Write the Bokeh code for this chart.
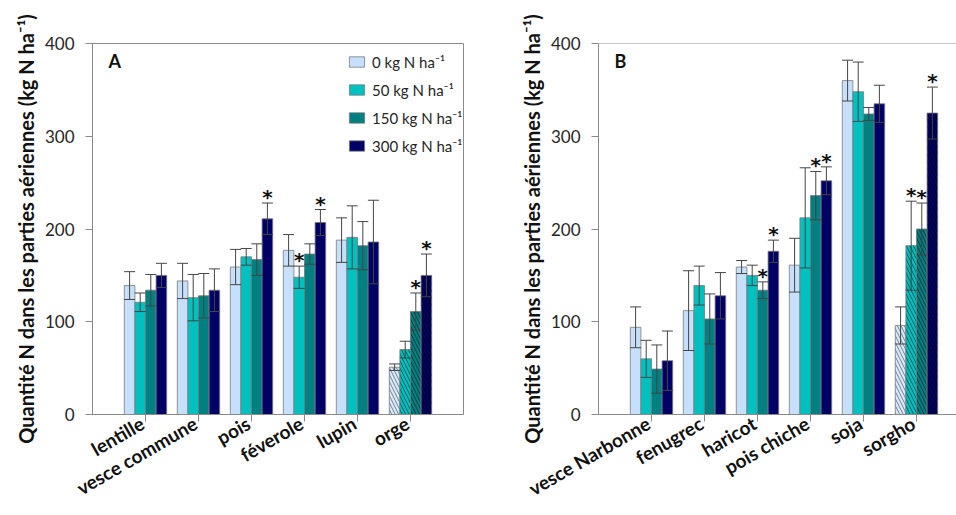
import math
from bokeh.plotting import figure
from bokeh.layouts import row
from bokeh.models import (ColumnDataSource, Whisker, TeeHead, Legend, LegendItem,
                          FixedTicker, Range1d, Label, Span, LinearAxis)
from bokeh.core.properties import value
from bokeh.embed import file_html
from bokeh.resources import INLINE

# ---------------- data ----------------
series_labels = ["0 kg N ha⁻¹", "50 kg N ha⁻¹", "150 kg N ha⁻¹", "300 kg N ha⁻¹"]

cats_A = ["lentille", "vesce commune", "pois", "féverole", "lupin", "orge"]
A_0 = [139, 144, 159, 177, 188, 51]
A_0_sd = [15, 19, 19, 17, 24, 3.5]
A_50 = [121, 126, 170, 148, 191, 70]
A_50_sd = [10, 25, 9, 12, 34, 9]
A_150 = [134, 128, 167, 173, 182, 111]
A_150_sd = [17, 24, 17, 11, 26, 20]
A_300 = [150, 134, 211, 207, 186, 150]
A_300_sd = [13, 23, 17, 14, 45, 23]
stars_A_0 = [0, 0, 0, 0, 0, 0]
stars_A_50 = [0, 0, 0, 1, 0, 0]
stars_A_150 = [0, 0, 0, 0, 0, 1]
stars_A_300 = [0, 0, 1, 1, 0, 1]
cereal_A = [0, 0, 0, 0, 0, 1]

cats_B = ["vesce Narbonne", "fenugrec", "haricot", "pois chiche", "soja", "sorgho"]
B_0 = [94, 112, 159, 161, 360, 96]
B_0_sd = [22, 43, 7, 29, 22, 20]
B_50 = [60, 139, 150, 212, 348, 182]
B_50_sd = [20, 21, 11, 54, 32, 48]
B_150 = [49, 103, 134, 236, 324, 200]
B_150_sd = [26, 27, 9, 26, 7, 28]
B_300 = [58, 128, 176, 252, 335, 325]
B_300_sd = [32, 25, 12, 15, 20, 28]
stars_B_0 = [0, 0, 0, 0, 0, 0]
stars_B_50 = [0, 0, 0, 0, 0, 1]
stars_B_150 = [0, 0, 1, 1, 0, 1]
stars_B_300 = [0, 0, 1, 1, 0, 1]
cereal_B = [0, 0, 0, 0, 0, 1]

y_ticks = [0, 100, 200, 300, 400]

# ---------------- style ----------------
FILL = ["#c6e0fb", "#00c0c0", "#008080", "#000066"]
HATCH_FILL = ["#dbe9f7", "#00c0c0", "#008080", "#000066"]
HATCH_COL = ["#6f8399", "#005a5a", "#003a3a", "#00001a"]
OFFSETS = [-0.3, -0.1, 0.1, 0.3]
BAR_W = 0.2
FONT = "Lato"
AXIS_COL = "#8a8a8a"
TEXT_COL = "#262626"
YLABEL = "Quantité N dans les parties aériennes (kg N ha⁻¹)"
LABEL_SHIFT = 0.06   # category-label axis offset so each label ends at its tick


def make_panel(cats, means, sds, stars, cereal, width, min_left, min_right,
               x_end, letter, show_legend, box):
    p = figure(width=width, height=515, output_backend="svg", toolbar_location=None,
               x_range=Range1d(-1, x_end), y_range=Range1d(0, 400))
    p.min_border_left = min_left
    p.min_border_right = min_right
    p.min_border_top = 43
    p.min_border_bottom = 101
    p.xgrid.grid_line_color = None
    p.ygrid.grid_line_color = None
    p.background_fill_color = "white"
    p.border_fill_color = "white"
    if box:
        p.outline_line_color = AXIS_COL
        p.outline_line_width = 1
    else:
        p.outline_line_color = None
        p.add_layout(Span(location=400, dimension="width", line_color=AXIS_COL, line_width=1))

    renderers = []
    for k in range(4):
        xs = [i + OFFSETS[k] for i in range(len(cats))]
        src = ColumnDataSource(dict(
            x=xs, top=means[k],
            up=[m + s for m, s in zip(means[k], sds[k])],
            lo=[m - s for m, s in zip(means[k], sds[k])],
            fill=[HATCH_FILL[k] if c else FILL[k] for c in cereal],
            hatch=["\\" if c else " " for c in cereal],
        ))
        r = p.vbar(x="x", top="top", width=BAR_W, source=src, fill_color="fill",
                   line_color="#7a7a7a", line_width=0.8,
                   hatch_pattern="hatch", hatch_color=HATCH_COL[k], hatch_scale=7,
                   hatch_weight=1)
        renderers.append(r)
        w = Whisker(base="x", upper="up", lower="lo", source=src,
                    line_color="#454545", line_width=1, level="overlay",
                    upper_head=TeeHead(size=11, line_color="#454545", line_width=1),
                    lower_head=TeeHead(size=11, line_color="#454545", line_width=1))
        p.add_layout(w)
        sx = [x for x, f in zip(xs, stars[k]) if f]
        sy = [m + s for m, s, f in zip(means[k], sds[k], stars[k]) if f]
        if sx:
            p.text(x=sx, y=sy, text=["*"] * len(sx), text_align="center",
                   text_baseline="middle", y_offset=-6,
                   text_font=value("DejaVu Sans"), text_font_style="bold",
                   text_font_size="20px", text_color="#111111")

    # y axis
    p.yaxis.ticker = FixedTicker(ticks=y_ticks)
    p.yaxis.axis_label = YLABEL
    # main x axis: line + tick marks only
    p.xaxis.ticker = FixedTicker(ticks=list(range(len(cats))))
    p.xaxis.major_label_text_color = None
    for ax in (p.xaxis, p.yaxis):
        ax.axis_line_color = AXIS_COL
        ax.major_tick_line_color = AXIS_COL
        ax.minor_tick_line_color = None
        ax.major_tick_in = 0
        ax.major_tick_out = 7
        ax.major_label_text_font = FONT
    p.yaxis.major_label_text_color = TEXT_COL
    p.yaxis.major_label_text_font_size = "17px"
    p.yaxis.major_label_standoff = 11
    p.yaxis.axis_label_text_font = FONT
    p.yaxis.axis_label_text_font_style = "bold"
    p.yaxis.axis_label_text_font_size = "20px"
    p.yaxis.axis_label_text_color = "#111111"
    p.yaxis.axis_label_standoff = 4

    # category labels on a companion axis (labels only)
    p.extra_x_ranges = {"lab": Range1d(-1 + LABEL_SHIFT, x_end + LABEL_SHIFT)}
    lab_axis = LinearAxis(x_range_name="lab", ticker=FixedTicker(ticks=list(range(len(cats)))),
                          major_label_overrides={i: c for i, c in enumerate(cats)},
                          major_label_orientation=math.pi / 6,
                          axis_line_color=None, major_tick_line_color=None,
                          minor_tick_line_color=None, major_tick_in=0, major_tick_out=0,
                          major_label_standoff=0, major_label_text_font=FONT,
                          major_label_text_font_style="bold",
                          major_label_text_font_size="19px",
                          major_label_text_color="#111111")
    p.add_layout(lab_axis, "below")

    p.add_layout(Label(x=-0.7, y=381, text=letter, text_font=FONT, text_font_style="bold",
                       text_font_size="18px", text_baseline="middle", text_color="#111111"))

    if show_legend:
        items = [LegendItem(label=series_labels[k], renderers=[renderers[k]]) for k in range(4)]
        leg = Legend(items=items, location=(255, 259), padding=0, margin=0,
                     spacing=9, glyph_width=19, glyph_height=13, label_height=19,
                     label_standoff=6, label_text_font=FONT, label_text_font_size="15px",
                     label_text_color=TEXT_COL, border_line_color=None,
                     background_fill_alpha=0)
        p.add_layout(leg)
    return p


pA = make_panel(cats_A, [A_0, A_50, A_150, A_300], [A_0_sd, A_50_sd, A_150_sd, A_300_sd],
                [stars_A_0, stars_A_50, stars_A_150, stars_A_300], cereal_A,
                width=480, min_left=92, min_right=17, x_end=6.0, letter="A",
                show_legend=True, box=True)
pB = make_panel(cats_B, [B_0, B_50, B_150, B_300], [B_0_sd, B_50_sd, B_150_sd, B_300_sd],
                [stars_B_0, stars_B_50, stars_B_150, stars_B_300], cereal_B,
                width=476, min_left=118, min_right=0, x_end=5.755, letter="B",
                show_legend=False, box=False)

layout = row(pA, pB)
open("out.html", "w").write(file_html(layout, INLINE))
